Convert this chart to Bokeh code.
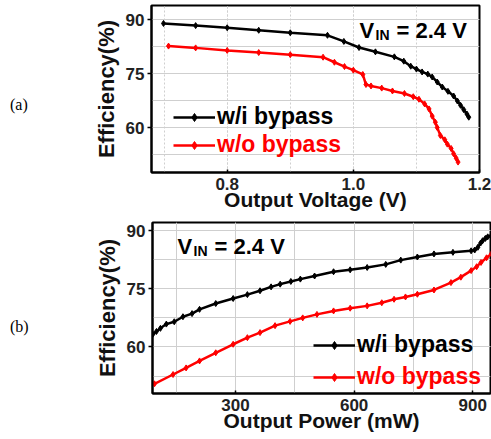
from bokeh.plotting import figure
from bokeh.layouts import column, row
from bokeh.models import Legend, LegendItem, Label, FixedTicker, Range1d, Div, PrintfTickFormatter
from bokeh.embed import file_html
from bokeh.resources import INLINE

# ---------------- data ----------------
# (a) efficiency vs output voltage
va_wi_x = [0.699, 0.75, 0.80, 0.85, 0.90, 0.959, 0.985, 1.009, 1.035, 1.065, 1.08, 1.091, 1.10, 1.109,
           1.118, 1.125, 1.133, 1.141, 1.15, 1.159, 1.165, 1.17, 1.175, 1.18, 1.183]
va_wi_y = [89.0, 88.4, 87.8, 87.1, 86.4, 85.7, 84.0, 82.3, 81.1, 79.7, 78.5, 77.1, 76.3, 75.5,
           74.9, 74.1, 72.7, 71.3, 70.1, 68.8, 67.4, 66.2, 65.0, 63.8, 62.9]
va_wo_x = [0.707, 0.75, 0.80, 0.85, 0.90, 0.952, 0.97, 0.986, 1.0, 1.015, 1.02, 1.028, 1.045, 1.062,
           1.081, 1.095, 1.104, 1.113, 1.12, 1.125, 1.13, 1.133, 1.138, 1.145, 1.149, 1.155, 1.159,
           1.163, 1.166]
va_wo_y = [82.7, 82.2, 81.5, 80.9, 80.3, 79.6, 78.2, 77.0, 76.0, 74.8, 72.0, 71.6, 71.0, 70.2,
           69.5, 68.6, 67.9, 66.6, 65.2, 63.2, 61.5, 60.0, 57.8, 56.6, 55.4, 54.2, 52.7, 51.5, 50.4]

# (b) efficiency vs output power
pb_wi_x = [91, 100, 110, 125, 145, 167, 190, 209, 250, 294, 330, 362, 390, 413, 440, 464, 500, 548,
           590, 633, 680, 718, 760, 802, 850, 896, 905, 913, 920, 925, 932, 938, 947]
pb_wi_y = [63.3, 64.0, 64.8, 65.9, 66.5, 67.8, 68.6, 69.7, 71.2, 72.5, 73.5, 74.5, 75.5, 76.2, 76.9,
           77.5, 78.3, 79.4, 79.9, 80.5, 81.3, 82.4, 83.2, 84.0, 84.4, 84.8, 85.0, 85.7, 86.8, 87.4,
           88.0, 88.4, 88.7]
pb_wo_x = [95, 142, 175, 209, 250, 294, 330, 362, 400, 438, 470, 506, 548, 590, 633, 670, 701, 730,
           760, 802, 845, 870, 896, 910, 921, 935, 947]
pb_wo_y = [50.5, 52.9, 54.6, 56.4, 58.5, 60.7, 62.4, 63.7, 65.5, 66.6, 67.5, 68.4, 69.3, 70.0, 70.6,
           71.4, 72.3, 72.9, 73.6, 74.7, 76.6, 78.0, 79.7, 80.7, 81.8, 83.0, 84.0]

y_ticks = [60, 75, 90]
y_minor = [52.5, 60, 67.5, 75, 82.5, 90]
xa_ticks = [0.8, 1.0, 1.2]
xa_minor = [0.7, 0.8, 0.9, 1.0, 1.1, 1.2]
xb_ticks = [300, 600, 900]
xb_minor = [150, 300, 450, 600, 750, 900]

series_labels = ["w/i bypass", "w/o bypass"]
series_colors = ["black", "#ff0000"]
panel_tags = ["(a)", "(b)"]

FONT = "Liberation Sans"
GRID = "#cfcfcf"
DIVW = 40


def make_fig(xr, yr, fl, fr, ft, fb, H, xlabel, xt, xm, xdash, xfmt):
    fw, fh = fr - fl, fb - ft
    p = figure(frame_width=fw, frame_height=fh, min_border_left=fl - DIVW, min_border_right=491 - fr,
               min_border_top=ft, min_border_bottom=H - fb,
               x_range=Range1d(*xr), y_range=Range1d(*yr),
               output_backend="svg", toolbar_location=None)
    p.outline_line_color = "black"
    p.outline_line_width = 2
    p.background_fill_color = "white"
    p.xaxis.ticker = FixedTicker(ticks=xt, minor_ticks=xm)
    p.yaxis.ticker = FixedTicker(ticks=y_ticks, minor_ticks=y_minor)
    p.xaxis.formatter = PrintfTickFormatter(format=xfmt)
    for ax in (p.xaxis[0], p.yaxis[0]):
        ax.axis_line_width = 2
        ax.axis_line_color = "black"
        ax.major_tick_line_width = 1.5
        ax.minor_tick_line_color = None
        ax.major_label_text_font = FONT
        ax.major_label_text_font_style = "bold"
        ax.major_label_text_font_size = "17px"
        ax.major_label_text_color = "#222222"
        ax.axis_label_text_font = FONT
        ax.axis_label_text_font_style = "bold"
        ax.axis_label_text_color = "#111111"
        ax.axis_label_text_font_size = "21px"
    p.xaxis.major_tick_in = 3
    p.xaxis.major_tick_out = 0
    p.yaxis.major_tick_in = 0
    p.yaxis.major_tick_out = 4
    p.xaxis.major_label_standoff = 1
    p.yaxis.major_label_standoff = 3
    p.xaxis.axis_label_standoff = -5
    p.yaxis.axis_label_standoff = 4
    p.xaxis.axis_label = xlabel
    p.yaxis.axis_label = "Efficiency(%)"
    p.yaxis.axis_label_text_font_size = "22px"
    for g in (p.xgrid[0], p.ygrid[0]):
        g.grid_line_color = GRID
        g.grid_line_width = 1
        g.minor_grid_line_color = GRID
        g.minor_grid_line_width = 1
    if xdash:
        p.xgrid.grid_line_dash = "2 2"
        p.xgrid.minor_grid_line_dash = "2 2"

    def cx(px):
        return xr[0] + (px - fl) / fw * (xr[1] - xr[0])

    def cy(py):
        return yr[0] + (fb - py) / fh * (yr[1] - yr[0])
    return p, cx, cy


def add_series(p, xs, ys, color, label, lx, lby):
    ln = p.line(xs, ys, line_color=color, line_width=2.5)
    sc = p.scatter(xs, ys, marker="diamond", size=6, color=color)
    leg = Legend(items=[LegendItem(label=label, renderers=[ln, sc])], location=(lx, lby),
                 label_text_font=FONT, label_text_font_style="bold", label_text_font_size="23px",
                 label_text_color=color, background_fill_alpha=0, border_line_alpha=0,
                 padding=0, margin=0, spacing=0, glyph_width=42, glyph_height=20,
                 label_height=20, label_standoff=2, label_text_baseline="middle")
    p.add_layout(leg)


def add_vin(p, cx, cy, x_v, base, size_big, size_small):
    common = dict(text_font=FONT, text_font_style="bold", text_color="black",
                  text_baseline="alphabetic", text_align="left")
    p.add_layout(Label(x=cx(x_v), y=cy(base), text="V", text_font_size=size_big, **common))
    p.add_layout(Label(x=cx(x_v + 16), y=cy(base + 4), text="IN", text_font_size=size_small, **common))
    p.add_layout(Label(x=cx(x_v + 37), y=cy(base), text="= 2.4 V", text_font_size=size_big, **common))


def tag_div(text, H, top):
    return Div(text=('<div style="margin-top:%dpx;margin-left:10px;font-family:\'Liberation Serif\';'
                     'font-size:16px;line-height:16px;color:black">%s</div>') % (top, text),
               width=DIVW, height=H, margin=(0, 0, 0, 0))


# ---------- (a) ----------
Ha = 215
pa, cxa, cya = make_fig((0.68, 1.2), (47.5, 94.0), 151, 479, 5, 172, Ha,
                        "Output Voltage (V)", xa_ticks, xa_minor, True, "%.1f")
add_series(pa, va_wi_x, va_wi_y, series_colors[0], series_labels[0], 22, 42)
add_series(pa, va_wo_x, va_wo_y, series_colors[1], series_labels[1], 22, 14)
add_vin(pa, cxa, cya, 359, 30, "22px", "14px")

# ---------- (b) ----------
Hb = 224
pb, cxb, cyb = make_fig((90, 945), (48.0, 92.1), 152, 490, 7, 178, Hb,
                        "Output Power (mW)", xb_ticks, xb_minor, False, "%d")
add_series(pb, pb_wi_x, pb_wi_y, series_colors[0], series_labels[0], 161, 35)
add_series(pb, pb_wo_x, pb_wo_y, series_colors[1], series_labels[1], 161, 3)
add_vin(pb, cxb, cyb, 177, 31, "22px", "14px")

layout = column(row(tag_div(panel_tags[0], Ha, 97), pa, spacing=0),
                row(tag_div(panel_tags[1], Hb, 104), pb, spacing=0), spacing=0)
open("out.html", "w").write(file_html(layout, INLINE))
